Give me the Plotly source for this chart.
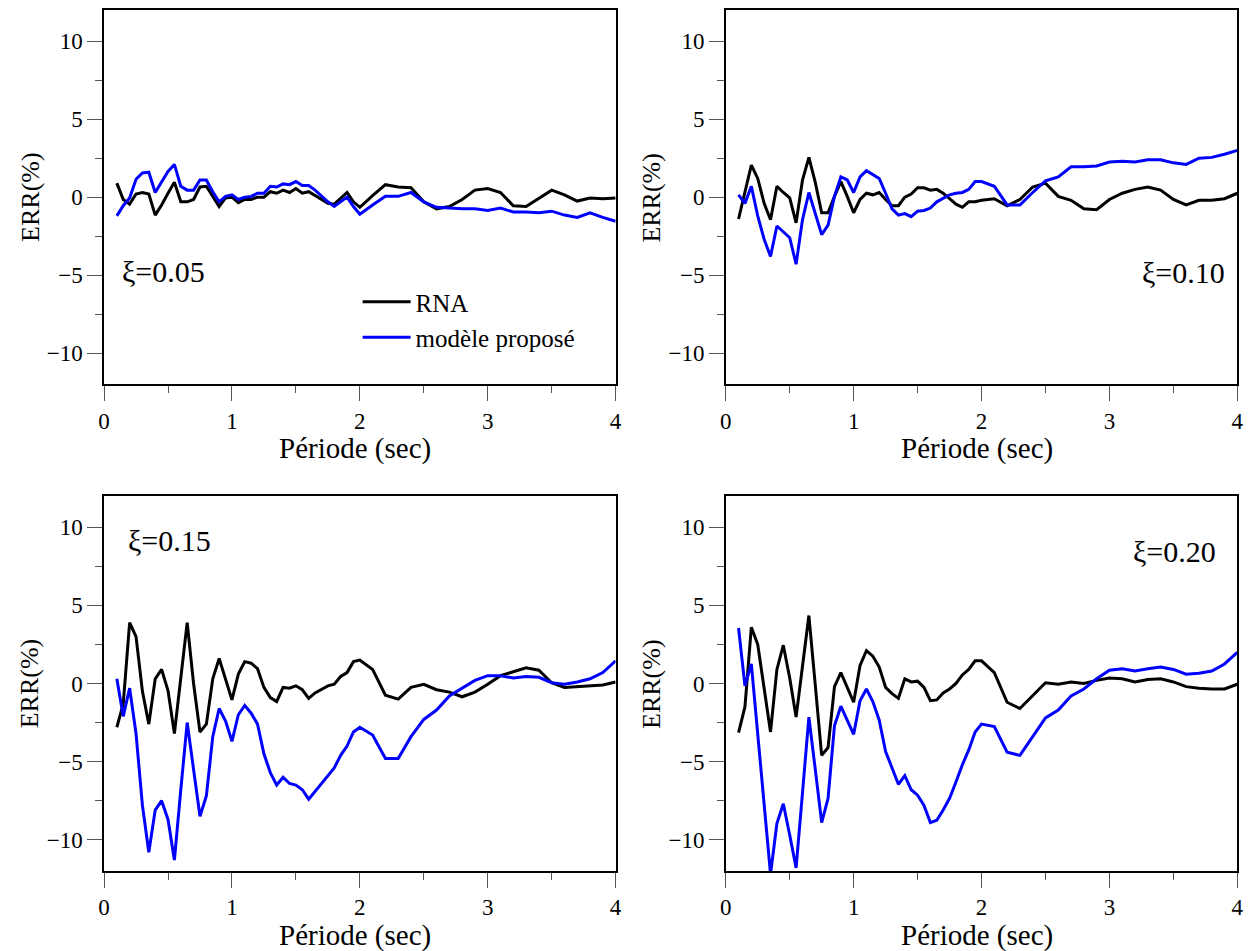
import plotly.graph_objects as go

# Period grid (s): 0.05 s steps up to 2 s, then 0.1 s steps up to 4 s
PERIODS = [0.10, 0.15, 0.20, 0.25, 0.30, 0.35, 0.40, 0.45, 0.50, 0.55,
           0.60, 0.65, 0.70, 0.75, 0.80, 0.85, 0.90, 0.95, 1.00, 1.05,
           1.10, 1.15, 1.20, 1.25, 1.30, 1.35, 1.40, 1.45, 1.50, 1.55,
           1.60, 1.65, 1.70, 1.75, 1.80, 1.85, 1.90, 1.95, 2.00,
           2.1, 2.2, 2.3, 2.4, 2.5, 2.6, 2.7, 2.8, 2.9, 3.0,
           3.1, 3.2, 3.3, 3.4, 3.5, 3.6, 3.7, 3.8, 3.9, 4.0]

# Relative error (%) for each damping ratio
RNA_005 = [0.9, -0.15, -0.45, 0.2, 0.3, 0.2, -1.15, -0.5, 0.25, 0.95,
           -0.3, -0.3, -0.15, 0.65, 0.7, 0.05, -0.6, -0.05, 0.0, -0.35,
           -0.15, -0.15, 0.0, 0.0, 0.35, 0.25, 0.45, 0.3, 0.55, 0.25,
           0.35, 0.1, -0.15, -0.4, -0.45, -0.05, 0.3, -0.3, -0.65,
           0.1, 0.8, 0.65, 0.6, -0.3, -0.75, -0.6, -0.15, 0.45, 0.55,
           0.3, -0.55, -0.6, -0.05, 0.45, 0.15, -0.25, -0.05, -0.1, -0.05]
MOD_005 = [-1.2, -0.55, -0.05, 1.15, 1.55, 1.6, 0.3, 1.0, 1.65, 2.1,
           0.7, 0.45, 0.45, 1.1, 1.1, 0.35, -0.3, 0.05, 0.15, -0.15,
           0.0, 0.05, 0.25, 0.25, 0.7, 0.65, 0.85, 0.8, 1.0, 0.75,
           0.75, 0.45, 0.05, -0.3, -0.6, -0.3, 0.0, -0.6, -1.1,
           -0.5, 0.05, 0.05, 0.3, -0.3, -0.65, -0.7, -0.75, -0.75, -0.85,
           -0.7, -0.95, -0.95, -1.0, -0.9, -1.15, -1.3, -1.0, -1.3, -1.55]

RNA_010 = [-1.4, 0.25, 2.05, 1.2, -0.4, -1.45, 0.7, 0.3, -0.05, -1.65,
           1.1, 2.55, 0.95, -1.0, -1.0, 0.05, 1.0, 0.05, -1.0, -0.15,
           0.25, 0.15, 0.3, -0.15, -0.55, -0.55, 0.0, 0.2, 0.6, 0.6,
           0.45, 0.5, 0.25, -0.1, -0.45, -0.65, -0.3, -0.3, -0.2,
           -0.1, -0.55, -0.15, 0.65, 0.9, 0.05, -0.2, -0.75, -0.8, -0.15,
           0.25, 0.5, 0.65, 0.45, -0.15, -0.5, -0.2, -0.2, -0.1, 0.25]
MOD_010 = [0.15, -0.4, 0.7, -1.2, -2.7, -3.8, -1.85, -2.25, -2.6, -4.3,
           -1.45, 0.3, -1.0, -2.4, -1.8, 0.05, 1.3, 1.1, 0.3, 1.3,
           1.7, 1.45, 1.2, 0.25, -0.75, -1.15, -1.05, -1.25, -0.9, -0.85,
           -0.7, -0.3, -0.05, 0.15, 0.25, 0.3, 0.5, 1.0, 1.0,
           0.7, -0.5, -0.5, 0.3, 1.05, 1.3, 1.95, 1.95, 2.0, 2.25,
           2.3, 2.25, 2.4, 2.4, 2.2, 2.1, 2.5, 2.55, 2.75, 3.0]

RNA_015 = [-2.8, -1.3, 3.9, 3.0, -0.5, -2.6, 0.3, 0.9, -0.45, -3.2,
           0.35, 3.9, 0.0, -3.1, -2.6, 0.3, 1.6, 0.35, -1.05, 0.6,
           1.4, 1.3, 0.95, -0.25, -0.9, -1.15, -0.25, -0.3, -0.15, -0.4,
           -0.95, -0.6, -0.35, -0.15, -0.05, 0.45, 0.7, 1.4, 1.5,
           0.9, -0.75, -1.0, -0.25, -0.05, -0.4, -0.55, -0.85, -0.55, -0.05,
           0.5, 0.75, 1.0, 0.85, 0.05, -0.25, -0.2, -0.15, -0.1, 0.1]
MOD_015 = [0.3, -2.1, -0.3, -3.2, -7.8, -10.8, -8.1, -7.5, -8.7, -11.3,
           -6.8, -2.5, -5.5, -8.5, -7.2, -3.4, -1.6, -2.4, -3.7, -2.0,
           -1.4, -1.9, -2.6, -4.5, -5.7, -6.5, -6.0, -6.4, -6.5, -6.8,
           -7.4, -6.9, -6.4, -5.9, -5.4, -4.6, -4.0, -3.1, -2.8,
           -3.3, -4.8, -4.8, -3.4, -2.3, -1.7, -0.8, -0.3, 0.2, 0.5,
           0.5, 0.35, 0.45, 0.4, 0.05, -0.05, 0.1, 0.3, 0.7, 1.45]

RNA_020 = [-3.15, -1.5, 3.6, 2.5, -0.3, -3.1, 0.9, 2.45, 0.35, -2.15,
           1.1, 4.35, -0.1, -4.6, -4.1, -0.2, 0.7, -0.2, -1.2, 1.15,
           2.1, 1.75, 1.05, -0.25, -0.65, -0.95, 0.3, 0.1, 0.15, -0.25,
           -1.1, -1.05, -0.6, -0.35, 0.0, 0.55, 0.9, 1.45, 1.45,
           0.7, -1.2, -1.6, -0.75, 0.05, -0.05, 0.1, 0.0, 0.2, 0.35,
           0.3, 0.1, 0.25, 0.3, 0.1, -0.2, -0.3, -0.35, -0.35, -0.05]
MOD_020 = [3.55, -0.15, 1.25, -3.2, -7.7, -12.2, -8.95, -7.7, -9.7, -11.8,
           -7.0, -2.15, -5.5, -8.9, -7.35, -2.7, -1.45, -2.3, -3.25, -1.1,
           -0.35, -1.15, -2.35, -4.35, -5.4, -6.45, -5.9, -6.8, -7.15, -7.8,
           -8.9, -8.75, -8.1, -7.35, -6.3, -5.2, -4.25, -3.1, -2.6,
           -2.75, -4.4, -4.6, -3.4, -2.2, -1.7, -0.8, -0.35, 0.3, 0.85,
           0.95, 0.8, 0.95, 1.05, 0.9, 0.6, 0.65, 0.8, 1.25, 2.0]

DAMPING_LABELS = ["ξ=0.05", "ξ=0.10", "ξ=0.15", "ξ=0.20"]
SERIES_NAMES = ["RNA", "modèle proposé"]
X_TICKS = [0, 1, 2, 3, 4]
Y_TICKS = [-10, -5, 0, 5, 10]

W, H = 1256, 951
FONT = "Liberation Serif, Times New Roman, serif"
BLACK = "#000000"
BLUE = "#0000FF"

# Plot-area boxes in pixels: (left, right, top, bottom)
BOXES = [(99, 615.5, 10, 384.3), (726.7, 1243.2, 10, 384.3),
         (99, 615.5, 496, 871), (726.7, 1243.2, 496, 871)]

# Damping label placement (data coords, x anchor)
LABEL_POS = [(0.124, -4.75, "left"), (3.92, -4.85, "right"),
             (0.17, 9.15, "left"), (3.85, 8.45, "right")]

PANEL_DATA = [(RNA_005, MOD_005), (RNA_010, MOD_010),
              (RNA_015, MOD_015), (RNA_020, MOD_020)]

fig = go.Figure()
layout = dict(
    width=W, height=H,
    margin=dict(l=0, r=0, t=0, b=0),
    paper_bgcolor="white", plot_bgcolor="white",
    font=dict(family=FONT, color="black"),
    showlegend=True,
    legend=dict(x=355 / W, y=1 - 279 / H, xanchor="left", yanchor="top",
                xref="paper", yref="paper", bgcolor="rgba(0,0,0,0)",
                font=dict(family=FONT, size=25, color="black"),
                itemwidth=48, tracegroupgap=0),
)
annotations = []

for i, (box, (rna, mod)) in enumerate(zip(BOXES, PANEL_DATA)):
    left, right, top, bottom = box
    n = "" if i == 0 else str(i + 1)
    xa, ya = "xaxis" + n, "yaxis" + n
    xr, yr = "x" + n, "y" + n
    axis_common = dict(
        showline=True, mirror=True, linecolor="black", linewidth=1.5,
        showgrid=False, zeroline=False, ticks="outside", tickwidth=1,
        tickcolor="#555555", ticklen=15,
        tickfont=dict(family=FONT, size=23, color="black"),
        fixedrange=True,
    )
    layout[xa] = dict(axis_common, domain=[left / W, right / W], anchor=yr,
                      range=[0, 4], tickmode="array", tickvals=X_TICKS,
                      minor=dict(dtick=0.5, tick0=0, ticks="outside",
                                 ticklen=7, tickcolor="#555555", tickwidth=1,
                                 showgrid=False))
    layout[ya] = dict(axis_common, domain=[1 - bottom / H, 1 - top / H],
                      anchor=xr, range=[-12, 12], tickmode="array",
                      tickvals=Y_TICKS,
                      minor=dict(dtick=2.5, tick0=0, ticks="outside",
                                 ticklen=7, tickcolor="#555555", tickwidth=1,
                                 showgrid=False))

    fig.add_trace(go.Scatter(x=PERIODS, y=rna, mode="lines", name=SERIES_NAMES[0],
                             line=dict(color=BLACK, width=3),
                             xaxis=xr, yaxis=yr, showlegend=(i == 0)))
    fig.add_trace(go.Scatter(x=PERIODS, y=mod, mode="lines", name=SERIES_NAMES[1],
                             line=dict(color=BLUE, width=3),
                             xaxis=xr, yaxis=yr, showlegend=(i == 0)))

    lx, ly, anchor = LABEL_POS[i]
    annotations.append(dict(x=lx, y=ly, xref=xr, yref=yr, text=DAMPING_LABELS[i],
                            showarrow=False, xanchor=anchor, yanchor="middle",
                            font=dict(family=FONT, size=30, color="black")))
    # axis titles
    annotations.append(dict(x=(left + right) / 2 / W - 5 / W, y=1 - (bottom + 64) / H,
                            xref="paper", yref="paper", text="Période (sec)",
                            showarrow=False, xanchor="center", yanchor="middle",
                            font=dict(family=FONT, size=29, color="black")))
    annotations.append(dict(x=(left - 75) / W, y=1 - (top + bottom) / 2 / H,
                            xref="paper", yref="paper", text="ERR(%)",
                            showarrow=False, xanchor="center", yanchor="middle",
                            textangle=-90,
                            font=dict(family=FONT, size=26, color="black")))

layout["annotations"] = annotations
fig.update_layout(**layout)
fig.write_html("out.html")
